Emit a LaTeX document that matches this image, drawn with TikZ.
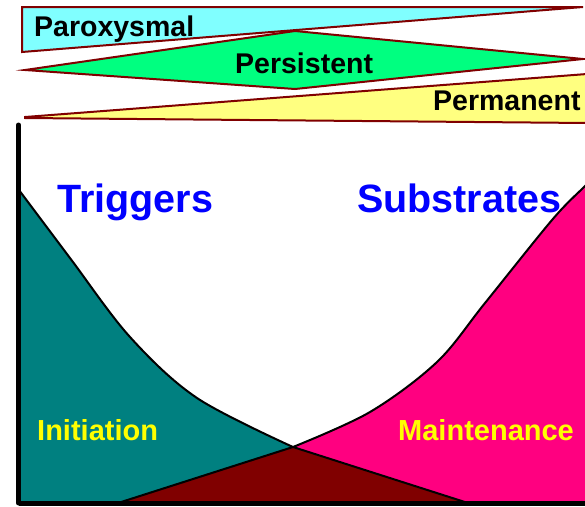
\documentclass[tikz,border=0pt]{standalone}
\usepackage{fontspec}
\setmainfont{Liberation Sans}
\definecolor{bandline}{RGB}{128,0,0}
\definecolor{cyanband}{RGB}{128,255,255}
\definecolor{greenband}{RGB}{0,255,128}
\definecolor{yellowband}{RGB}{255,255,128}
\definecolor{tealfill}{RGB}{0,128,128}
\definecolor{pinkfill}{RGB}{255,0,128}
\definecolor{maroonfill}{RGB}{128,0,0}
\definecolor{bluetext}{RGB}{0,0,255}
\definecolor{yellowtext}{RGB}{255,255,0}
\begin{document}
\begin{tikzpicture}[x=1pt,y=-1pt,
  band/.style={draw=bandline,line width=2pt,line join=miter},
  bandlabel/.style={anchor=base west,inner sep=0pt,font=\fontsize{28.5}{30}\selectfont\bfseries,text=black},
  biglabel/.style={anchor=base west,inner sep=0pt,font=\fontsize{39.5}{42}\selectfont\bfseries,text=bluetext},
  phaselabel/.style={anchor=base west,inner sep=0pt,font=\fontsize{29}{31}\selectfont\bfseries,text=yellowtext},
  curve/.style={draw=black,line width=2pt},
  axis/.style={draw=black,line width=5pt},
  smoothcurve/.style={smooth,tension=0.55}]
\useasboundingbox (0,0) rectangle (585,506);
\fill[white] (0,0) rectangle (585,506);

% bands
\path[band,fill=cyanband] (22,7) -- (583,7) -- (22,52) -- cycle;
\path[band,fill=greenband] (25,70) -- (295,31) -- (583,59) -- (295,89) -- cycle;
\path[band,fill=yellowband] (25,117) -- (587,74) -- (587,123) -- (25,118) -- cycle;

\node[bandlabel] (parox) at (34,36.5) {Paroxysmal};
\node[bandlabel] (persist) at (235,73) {Persistent};
\node[bandlabel] (perman) at (433,110) {Permanent};

% regions
\def\tealpts{(19,190) (70,258) (130,337) (197,398) (293,447)}
\def\pinkpts{(293,447) (370,412) (437,362) (485,303) (552,220) (583,188) (592,180)}
\fill[tealfill] plot[smoothcurve] coordinates {(19,190) (70,258) (130,337) (197,398) (293,447)} -- (468,503) -- (19,503) -- cycle;
\fill[pinkfill] (118,503) -- plot[smoothcurve] coordinates {(293,447) (370,412) (437,362) (485,303) (552,220) (583,188) (592,180)} -- (592,503) -- cycle;
\fill[maroonfill] (118,503) -- (293,447) -- (468,503) -- cycle;

\draw[curve] plot[smoothcurve] coordinates {(19,190) (70,258) (130,337) (197,398) (293,447)} -- (468,503);
\draw[curve] (118,503) -- plot[smoothcurve] coordinates {(293,447) (370,412) (437,362) (485,303) (552,220) (583,188) (592,180)};

% axes
\coordinate (ytop) at (18.5,125);
\coordinate (origin) at (18.5,503);
\coordinate (xend) at (590,503);
\draw[axis,line cap=round] (ytop) -- (origin);
\draw[axis] (origin) -- (xend);

\node[biglabel] (trig) at (57,212) {Triggers};
\node[biglabel] (subst) at (357,212) {Substrates};
\node[phaselabel] (init) at (37,440) {Initiation};
\node[phaselabel] (maint) at (398,440) {Maintenance};
\end{tikzpicture}
\end{document}
